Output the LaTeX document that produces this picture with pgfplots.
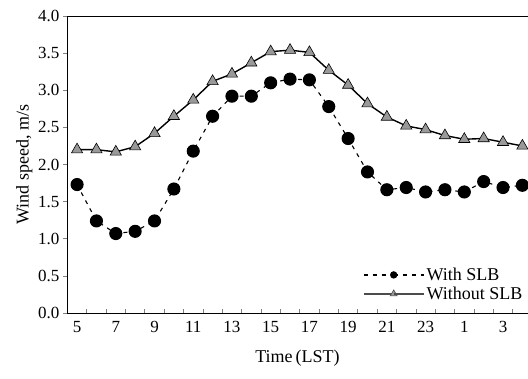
\documentclass[border=0pt]{standalone}
\usepackage{pgfplots}
\pgfplotsset{compat=1.18}
\usepackage{fontspec}
\setmainfont{Liberation Serif}
\usetikzlibrary{calc}
\begin{document}
\begin{tikzpicture}
\begin{axis}[
  name=ax,
  at={(0,0)}, anchor=south west,
  scale only axis,
  width=461pt, height=297pt,
  xmin=4.48, xmax=28.29,
  ymin=0, ymax=4,
  axis x line*=box, axis y line*=left,
  xtick pos=bottom, ytick pos=left,
  axis line style={line width=0.9pt},
  major tick length=4pt,
  xtick={5.5,6.5,...,27.5},
  xticklabels={},
  extra x ticks={5,7,...,27},
  extra x tick labels={5,7,9,11,13,15,17,19,21,23,1,3},
  extra x tick style={major tick length=0pt, tick label style={yshift=-5pt}},
  x tick style={line width=0.7pt},
  xtick align=inside,
  ytick={0,0.5,...,4},
  y tick style={line width=0.7pt},
  ytick align=outside,
  yticklabel style={/pgf/number format/.cd, fixed, fixed zerofill, precision=1},
  /pgf/number format/assume math mode=true,
  tick label style={font=\fontsize{17}{20}\selectfont, text=black},
  label style={font=\fontsize{18}{21}\selectfont},
  xlabel={Time\,(LST)},
  ylabel={Wind speed, m/s},
  xlabel style={yshift=-10pt},
  ylabel style={yshift=-1pt},
  legend style={draw=none, fill=none, at={(0.995,0.03)}, anchor=south east,
    font=\fontsize{18}{21}\selectfont, row sep=1pt, inner sep=1pt},
  legend cell align=left,
  legend image code/.code={
    \draw[#1] (0pt,0pt) -- (30pt,0pt);
    \draw[#1] plot coordinates {(30pt,0pt)};
    \draw[#1] (30pt,0pt) -- (60pt,0pt);
  },
]
\addplot[black, line width=1.1pt, dash pattern=on 4pt off 5pt,
  mark=*, mark size=6pt, mark options={solid, fill=black},
  legend image post style={mark size=3pt, line width=1.3pt}]
coordinates {
(5,1.73) (6,1.24) (7,1.07) (8,1.10) (9,1.24) (10,1.67) (11,2.18) (12,2.65)
(13,2.92) (14,2.92) (15,3.10) (16,3.15) (17,3.14) (18,2.78) (19,2.35) (20,1.90)
(21,1.66) (22,1.69) (23,1.63) (24,1.66) (25,1.63) (26,1.77) (27,1.69) (28,1.72)
};
\addlegendentry{With SLB}
\addplot[black, line width=1.4pt,
  mark=triangle*, mark size=6.5pt, mark options={solid, fill=black!40, line width=0.6pt},
  legend image post style={mark size=4pt, line width=2pt, draw=black!70}]
coordinates {
(5,2.20) (6,2.20) (7,2.17) (8,2.24) (9,2.42) (10,2.65) (11,2.87) (12,3.12)
(13,3.22) (14,3.37) (15,3.52) (16,3.54) (17,3.51) (18,3.27) (19,3.07) (20,2.82)
(21,2.64) (22,2.52) (23,2.47) (24,2.39) (25,2.34) (26,2.35) (27,2.30) (28,2.25)
};
\addlegendentry{Without SLB}
\end{axis}
\pgfresetboundingbox
\path[use as bounding box] ($(ax.south west)+(-67pt,-66pt)$) rectangle ($(ax.south west)+(461pt,313pt)$);
\end{tikzpicture}
\end{document}
